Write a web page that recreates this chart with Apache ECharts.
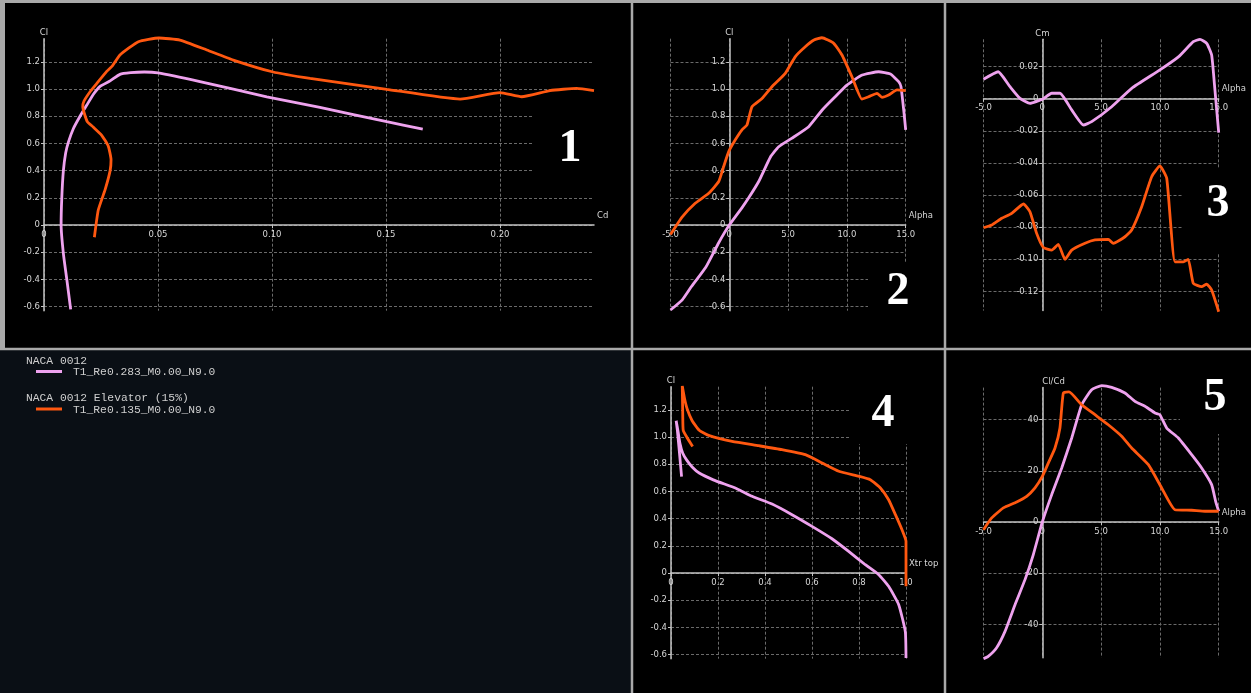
<!DOCTYPE html>
<html><head><meta charset="utf-8">
<script src="https://cdn.jsdelivr.net/npm/echarts@6/dist/echarts.min.js"></script>
<style>html,body{margin:0;padding:0;background:#000;}#c{width:1251px;height:693px;}</style>
</head><body><div id="c"></div>
<script>
// ---------- tick values ----------
const clTicks = [-0.6,-0.4,-0.2,0,0.2,0.4,0.6,0.8,1.0,1.2];
const cdTicks = [0,0.05,0.10,0.15,0.20];
const alphaTicks = [-5,0,5,10,15];
const cmTicks = [-0.12,-0.10,-0.08,-0.06,-0.04,-0.02,0,0.02];
const xtrTicks = [0,0.2,0.4,0.6,0.8,1.0];
const clcdTicks = [-40,-20,0,20,40];

// ---------- legend ----------
const polarNames = ['NACA 0012', 'NACA 0012 Elevator (15%)'];
const polarRuns = ['T1_Re0.283_M0.00_N9.0', 'T1_Re0.135_M0.00_N9.0'];

// ---------- panel 1 : Cl vs Cd ----------
const p1Pink = [[0.0117,-0.62],[0.0100,-0.40],[0.0085,-0.21],[0.0075,0.0],[0.0078,0.20],[0.0085,0.40],[0.0095,0.53],[0.0107,0.61],[0.0129,0.71],[0.0158,0.80],[0.0187,0.88],[0.0216,0.96],[0.0246,1.02],[0.0290,1.06],[0.0333,1.108],[0.0380,1.12],[0.0440,1.125],[0.0500,1.118],[0.0684,1.054],[0.0977,0.943],[0.1210,0.865],[0.1503,0.760],[0.1661,0.706]];
const p1Orange = [[0.0221,-0.09],[0.0238,0.11],[0.0268,0.26],[0.0290,0.40],[0.0294,0.48],[0.0282,0.58],[0.0253,0.66],[0.0216,0.72],[0.0190,0.76],[0.0177,0.82],[0.0170,0.87],[0.0175,0.91],[0.0202,0.98],[0.0231,1.04],[0.0275,1.13],[0.0300,1.17],[0.0333,1.25],[0.0414,1.348],[0.0504,1.375],[0.0596,1.36],[0.0714,1.287],[0.0830,1.213],[0.1001,1.127],[0.1167,1.078],[0.1503,0.998],[0.1825,0.926],[0.2000,0.973],[0.2095,0.943],[0.2219,0.988],[0.2336,1.005],[0.2412,0.988]];

// ---------- panel 2 : Cl vs Alpha ----------
const p2Pink = [[-5.0,-0.625],[-4.0,-0.55],[-3.2,-0.45],[-2.0,-0.31],[-0.9,-0.13],[0,0],[1.1,0.13],[1.65,0.20],[2.5,0.32],[3.5,0.50],[4.2,0.576],[5.3,0.637],[6.75,0.723],[7.9,0.846],[9.0,0.943],[10.0,1.029],[11.3,1.103],[12.7,1.127],[13.7,1.11],[14.4,1.054],[14.6,1.017],[14.83,0.846],[15.0,0.70]];
const p2Orange = [[-5.0,-0.07],[-4.0,0.06],[-2.9,0.16],[-1.75,0.233],[-0.9,0.32],[-0.48,0.43],[-0.05,0.54],[0.5,0.625],[1.08,0.70],[1.5,0.735],[1.93,0.87],[2.78,0.93],[3.63,1.017],[4.76,1.115],[5.6,1.237],[6.46,1.311],[7.2,1.36],[7.88,1.377],[8.88,1.336],[9.58,1.25],[10.43,1.09],[11.28,0.926],[11.85,0.943],[12.56,0.968],[12.98,0.939],[13.55,0.956],[14.26,0.993],[15.0,0.988]];

// ---------- panel 3 : Cm vs Alpha ----------
const p3Pink = [[-5.0,0.0121],[-3.75,0.0168],[-2.75,0.0075],[-1.9,0.0002],[-1.05,-0.0029],[0,-0.0004],[0.8,0.0034],[1.5,0.0034],[2.5,-0.007],[3.5,-0.0164],[4.2,-0.0143],[5.9,-0.005],[7.6,0.0065],[10.0,0.0179],[11.6,0.0262],[12.84,0.0355],[13.41,0.037],[13.98,0.0345],[14.4,0.0272],[14.63,0.0096],[15.0,-0.0212]];
const p3Orange = [[-5.0,-0.0804],[-4.3,-0.0787],[-3.45,-0.0745],[-2.6,-0.0714],[-1.6,-0.0656],[-1.05,-0.0704],[-0.48,-0.0839],[0.08,-0.0926],[0.8,-0.0943],[1.36,-0.0907],[1.93,-0.1001],[2.5,-0.0943],[3.63,-0.0901],[4.48,-0.088],[5.61,-0.0876],[6.04,-0.0901],[7.03,-0.086],[7.6,-0.0818],[8.45,-0.0673],[9.3,-0.0486],[10.0,-0.0419],[10.58,-0.0496],[11.28,-0.1016],[11.99,-0.1016],[12.41,-0.1001],[12.84,-0.115],[13.55,-0.1171],[13.98,-0.1155],[14.4,-0.1192],[15.0,-0.1327]];

// ---------- panel 4 : Cl vs Xtr top ----------
const p4Pink = [[1.0,-0.625],[0.997,-0.43],[0.969,-0.233],[0.926,-0.098],[0.884,-0.012],[0.827,0.061],[0.756,0.159],[0.685,0.252],[0.60,0.343],[0.515,0.429],[0.43,0.507],[0.345,0.564],[0.28,0.62],[0.18,0.685],[0.12,0.735],[0.09,0.78],[0.067,0.83],[0.05,0.88],[0.038,0.954],[0.03,1.04],[0.022,1.12],[0.027,1.051],[0.035,0.904],[0.045,0.708]];
const p4Orange = [[1.0,-0.098],[1.0,0.233],[0.983,0.318],[0.955,0.429],[0.926,0.539],[0.891,0.625],[0.848,0.686],[0.80,0.711],[0.714,0.748],[0.643,0.809],[0.572,0.87],[0.472,0.907],[0.373,0.936],[0.26,0.968],[0.16,1.012],[0.12,1.05],[0.09,1.12],[0.07,1.20],[0.058,1.28],[0.048,1.375],[0.05,1.16],[0.052,1.05],[0.067,1.0],[0.092,0.93]];

// ---------- panel 5 : Cl/Cd vs Alpha ----------
const p5Pink = [[-5.0,-53.4],[-4.6,-52.5],[-3.9,-49.2],[-3.17,-42.7],[-2.32,-32.3],[-1.47,-22.5],[-0.77,-12.8],[0,0],[0.8,10.7],[1.65,21.1],[2.5,32.8],[3.35,45.8],[4.2,51.7],[5.05,53.3],[5.9,52.6],[7.03,50.4],[7.88,47.1],[8.73,45.2],[9.58,42.6],[10.0,41.9],[10.58,36.7],[11.57,32.8],[12.7,26.3],[13.55,21.1],[14.4,14.6],[14.74,8.1],[15.0,4.2]];
const p5Orange = [[-5.0,-3.0],[-4.3,1.6],[-3.31,5.5],[-2.18,7.8],[-1.33,10.0],[-0.62,13.3],[0,17.8],[0.51,23.0],[1.08,28.9],[1.5,36.7],[1.79,50.4],[2.27,50.8],[3.35,45.8],[4.48,41.9],[5.61,38.0],[6.75,33.5],[7.6,28.9],[9.02,22.4],[10.15,13.3],[11.28,4.8],[12.7,4.6],[13.83,4.2],[15.0,4.2]];

// ---------- styling ----------
const PINK = '#eea2ee';
const ORANGE = '#ff5810';
const TXT = '#d6d6d6';
const AXIS = '#c4c4c4';
const GRIDC = '#6a6a6a';
const SANS = '"DejaVu Sans", Verdana, sans-serif';

const f1 = v => v === 0 ? '0' : v.toFixed(1);
const f2 = v => v === 0 ? '0' : v.toFixed(2);
const f0 = v => String(Math.round(v));

const grids = [
  {left: 44, top: 38.7, width: 550, height: 272},
  {left: 670.5, top: 38.7, width: 235.2, height: 272},
  {left: 983.5, top: 39.3, width: 235.2, height: 271.3},
  {left: 671, top: 386.7, width: 235, height: 272},
  {left: 983.5, top: 387.6, width: 235.2, height: 270.1}
];

// offset that puts an axis through the zero value of the other axis
function zeroOffset(min, max, len) { return -(0 - min) / (max - min) * len; }

function axis(dim, gi, min, max, ticks, fmt, name, nameAlign) {
  const isX = dim === 'x';
  const g = grids[gi];
  const off = isX ? 0 : 0;
  return {
    type: 'value', gridIndex: gi, min: min, max: max,
    position: isX ? 'bottom' : 'left',
    name: name, nameLocation: 'end', nameGap: isX ? 3 : 1,
    nameTextStyle: isX
      ? {color: TXT, fontSize: 8.5, fontFamily: SANS, align: 'left', verticalAlign: 'bottom', padding: [0,0,5,0]}
      : {color: TXT, fontSize: 8.5, fontFamily: SANS, align: nameAlign || 'center', verticalAlign: 'bottom'},
    axisLine: {show: true, onZero: false, lineStyle: {color: AXIS, width: 1.5}},
    axisTick: {show: true, length: 3, customValues: ticks, lineStyle: {color: AXIS, width: 1}},
    axisLabel: {customValues: ticks, formatter: fmt, color: TXT, fontSize: 8.5, fontFamily: SANS, margin: isX ? 5 : 4},
    splitLine: {show: true, lineStyle: {color: GRIDC, width: 1, type: [3, 2]}}
  };
}

const xDefs = [
  [0, 0, 0.2412, cdTicks, f2, 'Cd'],
  [1, -5, 15, alphaTicks, f1, 'Alpha'],
  [2, -5, 15, alphaTicks, f1, 'Alpha'],
  [3, 0, 1.0, xtrTicks, f1, 'Xtr top'],
  [4, -5, 15, alphaTicks, f1, 'Alpha']
];
const yDefs = [
  [0, -0.63, 1.37, clTicks, f1, 'Cl'],
  [1, -0.63, 1.37, clTicks, f1, 'Cl'],
  [2, -0.132, 0.037, cmTicks, f2, 'Cm'],
  [3, -0.63, 1.37, clTicks, f1, 'Cl'],
  [4, -53, 52.5, clcdTicks, f0, 'Cl/Cd', 'left']
];

const xAxes = xDefs.map((d, i) => {
  const a = axis('x', d[0], d[1], d[2], d[3], d[4], d[5]);
  const y = yDefs[i];
  a.offset = zeroOffset(y[1], y[2], grids[i].height);
  return a;
});
const yAxes = yDefs.map((d, i) => {
  const a = axis('y', d[0], d[1], d[2], d[3], d[4], d[5], d[6]);
  const x = xDefs[i];
  a.offset = zeroOffset(x[1], x[2], grids[i].width);
  return a;
});

function line(xi, data, color) {
  return {type: 'line', xAxisIndex: xi, yAxisIndex: xi, data: data, showSymbol: false, symbol: 'none',
    smooth: 0.15, clip: false, z: 3, lineStyle: {color: color, width: 2.8}, itemStyle: {color: color}};
}

const series = [
  line(0, p1Pink, PINK), line(0, p1Orange, ORANGE),
  line(1, p2Pink, PINK), line(1, p2Orange, ORANGE),
  line(2, p3Pink, PINK), line(2, p3Orange, ORANGE),
  line(3, p4Pink, PINK), line(3, p4Orange, ORANGE),
  line(4, p5Pink, PINK), line(4, p5Orange, ORANGE)
];

const SEP = '#a9a9a9';
function sepLine(x1, y1, x2, y2, w) {
  return {type: 'line', z: 6, silent: true, shape: {x1, y1, x2, y2}, style: {stroke: SEP, lineWidth: w}};
}
function blackBox(x, y, w, h) {
  return {type: 'rect', z: 1, silent: true, shape: {x, y, width: w, height: h}, style: {fill: '#000'}};
}
function bigNum(t, x, y) {
  return {type: 'text', z: 5, silent: true, x: x, y: y,
    style: {text: t, fill: '#ffffff', font: 'bold 46px "Liberation Serif", "Times New Roman", serif', textAlign: 'center', textVerticalAlign: 'middle'}};
}
function legText(t, x, y) {
  return {type: 'text', z: 5, silent: true, x: x, y: y,
    style: {text: t, fill: '#cfcfcf', font: '11.3px "Liberation Mono", "Courier New", monospace', textAlign: 'left', textVerticalAlign: 'middle'}};
}
function legLine(x1, x2, y, c) {
  return {type: 'line', z: 5, silent: true, shape: {x1, y1: y, x2, y2: y}, style: {stroke: c, lineWidth: 3}};
}

const graphic = [
  {type: 'rect', z: -1, silent: true, shape: {x: 0, y: 349, width: 632, height: 344}, style: {fill: '#0a0f15'}},
  blackBox(532, 100, 70, 86),
  blackBox(868, 262, 52, 52),
  blackBox(1183, 168, 62, 86),
  blackBox(849, 386, 70, 58),
  blackBox(1180, 386, 65, 48),
  bigNum('1', 570, 149),
  bigNum('2', 898, 292),
  bigNum('3', 1218, 204),
  bigNum('4', 883, 414),
  bigNum('5', 1215, 398),
  legText(polarNames[0], 26, 361),
  legLine(36, 62, 371.5, PINK),
  legText(polarRuns[0], 73, 372),
  legText(polarNames[1], 26, 398),
  legLine(36, 62, 409, ORANGE),
  legText(polarRuns[1], 73, 410),
  sepLine(0, 1.5, 1251, 1.5, 3),
  sepLine(2.5, 0, 2.5, 349, 5),
  sepLine(632, 0, 632, 693, 2.5),
  sepLine(945, 0, 945, 693, 2.5),
  sepLine(0, 349, 1251, 349, 2.5)
];

const chart = echarts.init(document.getElementById('c'), null, {renderer: 'canvas'});
chart.setOption({
  backgroundColor: '#000',
  animation: false,
  grid: grids,
  xAxis: xAxes,
  yAxis: yAxes,
  series: series,
  graphic: {elements: graphic}
});
</script></body></html>
